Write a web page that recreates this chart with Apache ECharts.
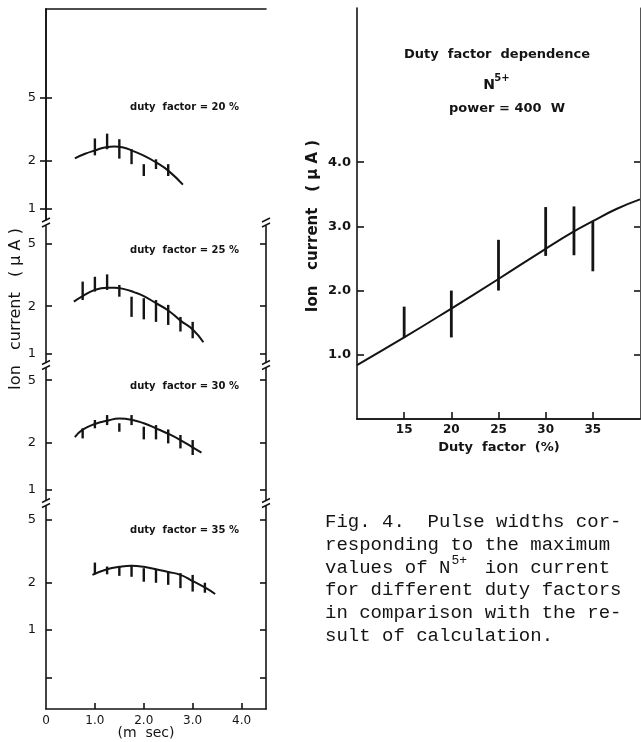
<!DOCTYPE html>
<html><head><meta charset="utf-8">
<script src="https://cdn.jsdelivr.net/npm/echarts@6/dist/echarts.min.js"></script>
<style>html,body{margin:0;padding:0;background:#fff}#c{width:641px;height:742px}</style>
</head><body><div id="c"></div>
<script>
// ---------------- data ----------------
// left figure: pulse width (ms) vs ion current (uA), log scale
const msTickValues = [0, 1, 2, 3, 4];
const msTickMarks = [1, 2, 3, 4];
const logTicks = [1, 2, 5];
const logTicksLow = [0.5, 1, 2, 5];
const panelTitles = ['duty  factor = 20 %', 'duty  factor = 25 %', 'duty  factor = 30 %', 'duty  factor = 35 %'];

const curve20T = [0.59, 0.8, 1.0, 1.2, 1.4, 1.6, 1.75, 2.0, 2.25, 2.5, 2.8];
const curve20I = [2.08, 2.22, 2.33, 2.43, 2.47, 2.42, 2.33, 2.16, 1.96, 1.74, 1.42];
const bar20T = [1.0, 1.25, 1.5, 1.75, 2.0, 2.25, 2.5];
const bar20Lo = [2.17, 2.37, 2.07, 1.91, 1.61, 1.78, 1.61];
const bar20Hi = [2.77, 2.97, 2.74, 2.37, 1.91, 2.05, 1.91];

const curve25T = [0.57, 0.75, 1.0, 1.25, 1.4, 1.6, 1.8, 2.0, 2.25, 2.5, 2.75, 3.0, 3.22];
const curve25I = [2.14, 2.32, 2.54, 2.62, 2.62, 2.57, 2.46, 2.32, 2.09, 1.88, 1.62, 1.42, 1.18];
const bar25T = [0.75, 1.0, 1.25, 1.5, 1.75, 2.0, 2.25, 2.5, 2.75, 3.0];
const bar25Lo = [2.19, 2.48, 2.54, 2.30, 1.71, 1.65, 1.59, 1.52, 1.38, 1.25];
const bar25Hi = [2.87, 3.08, 3.19, 2.73, 2.30, 2.25, 2.19, 2.04, 1.71, 1.59];

const curve30T = [0.59, 0.75, 1.0, 1.25, 1.5, 1.75, 2.0, 2.25, 2.5, 2.75, 3.0, 3.18];
const curve30I = [2.17, 2.42, 2.63, 2.76, 2.85, 2.80, 2.66, 2.47, 2.28, 2.08, 1.87, 1.73];
const bar30T = [0.75, 1.0, 1.25, 1.5, 1.75, 2.0, 2.25, 2.5, 2.75, 3.0];
const bar30Lo = [2.13, 2.47, 2.59, 2.35, 2.59, 2.10, 2.10, 1.98, 1.84, 1.67];
const bar30Hi = [2.47, 2.79, 3.00, 2.66, 3.00, 2.53, 2.59, 2.43, 2.24, 2.08];

const curve35T = [0.95, 1.25, 1.5, 1.75, 2.0, 2.25, 2.5, 2.75, 3.0, 3.25, 3.46];
const curve35I = [2.23, 2.42, 2.51, 2.55, 2.51, 2.42, 2.33, 2.23, 2.04, 1.86, 1.69];
const bar35T = [1.0, 1.25, 1.5, 1.75, 2.0, 2.25, 2.5, 2.75, 3.0, 3.25];
const bar35Lo = [2.25, 2.25, 2.20, 2.17, 2.02, 1.99, 1.93, 1.84, 1.75, 1.72];
const bar35Hi = [2.67, 2.52, 2.52, 2.58, 2.46, 2.40, 2.34, 2.29, 2.23, 1.99];

// right figure: duty factor (%) vs ion current (uA)
const dutyTicks = [15, 20, 25, 30, 35];
const currentTicks = [1, 2, 3, 4];
const calcDuty = [10, 15, 20, 25, 30, 33, 35, 37.5, 40];
const calcCurrent = [0.84, 1.27, 1.72, 2.18, 2.65, 2.92, 3.08, 3.27, 3.42];
const measDuty = [15, 20, 25, 30, 33, 35];
const measLo = [1.27, 1.27, 2.00, 2.54, 2.55, 2.30];
const measHi = [1.75, 2.00, 2.79, 3.30, 3.31, 3.08];

const captionLines = [
  'Fig. 4.  Pulse widths cor-',
  'responding to the maximum',
  'values of N   ion current',
  'for different duty factors',
  'in comparison with the re-',
  'sult of calculation.'
];

// ---------------- layout / style ----------------
const INK = '#141414';
const SANS = 'DejaVu Sans';
const LEFT_X = 46, LEFT_W = 220;
const panelLayout = [
  {top: 9, height: 212, min: 0.84, max: 18, ticks: logTicks},
  {top: 225, height: 138, min: 0.87, max: 6.58, ticks: logTicks},
  {top: 368, height: 133, min: 0.851, max: 5.98, ticks: logTicks},
  {top: 506, height: 203, min: 0.316, max: 6.09, ticks: logTicksLow}
];
const panels = [
  {cT: curve20T, cI: curve20I, bT: bar20T, lo: bar20Lo, hi: bar20Hi},
  {cT: curve25T, cI: curve25I, bT: bar25T, lo: bar25Lo, hi: bar25Hi},
  {cT: curve30T, cI: curve30I, bT: bar30T, lo: bar30Lo, hi: bar30Hi},
  {cT: curve35T, cI: curve35I, bT: bar35T, lo: bar35Lo, hi: bar35Hi}
];

const grid = panelLayout.map(p => ({left: LEFT_X, width: LEFT_W, top: p.top, height: p.height, outerBoundsMode: 'none'}));
grid.push({left: 357, width: 283, top: 8, height: 411, outerBoundsMode: 'none'});

const lineSt = {color: INK, width: 1.6};
const xAxis = [], yAxis = [], series = [];

panelLayout.forEach((p, i) => {
  const last = i === 3;
  xAxis.push({
    type: 'value', gridIndex: i, min: 0, max: 4.5, show: last,
    axisLine: {show: true, lineStyle: lineSt},
    axisTick: {show: true, inside: true, length: 6, customValues: msTickMarks, lineStyle: lineSt},
    axisLabel: {customValues: msTickValues, margin: 6, color: INK, fontFamily: SANS, fontSize: 12,
      formatter: v => v === 0 ? '0' : Number(v).toFixed(1)},
    splitLine: {show: false}
  });
});
xAxis.push({ // right figure bottom
  type: 'value', gridIndex: 4, min: 10, max: 40,
  axisLine: {show: true, lineStyle: lineSt},
  axisTick: {show: true, inside: true, length: 7, customValues: dutyTicks, lineStyle: lineSt},
  axisLabel: {customValues: dutyTicks, margin: 5, color: INK, fontFamily: SANS, fontSize: 12, fontWeight: 'bold'},
  splitLine: {show: false}
});
// frame top lines
xAxis.push({type: 'value', gridIndex: 0, position: 'top', min: 0, max: 4.5,
  axisLine: {show: true, lineStyle: lineSt}, axisTick: {show: false}, axisLabel: {show: false}, splitLine: {show: false}});
xAxis.push({type: 'value', gridIndex: 4, position: 'top', min: 10, max: 40,
  axisLine: {show: true, lineStyle: lineSt}, axisTick: {show: false}, axisLabel: {show: false}, splitLine: {show: false}});

panelLayout.forEach((p, i) => {
  yAxis.push({
    type: 'log', logBase: 10, gridIndex: i, min: p.min, max: p.max, position: 'left',
    axisLine: {show: true, lineStyle: lineSt},
    axisTick: {show: true, inside: true, length: 6, customValues: p.ticks, lineStyle: lineSt},
    axisLabel: {customValues: p.ticks, margin: 10, color: INK, fontFamily: SANS, fontSize: 13,
      formatter: v => v < 0.9 ? '' : String(Math.round(v))},
    splitLine: {show: false}, minorTick: {show: false}
  });
});
yAxis.push({
  type: 'value', gridIndex: 4, min: 0, max: 6.4, position: 'left',
  axisLine: {show: true, lineStyle: lineSt},
  axisTick: {show: true, inside: true, length: 7, customValues: currentTicks, lineStyle: lineSt},
  axisLabel: {customValues: currentTicks, margin: 6, color: INK, fontFamily: SANS, fontSize: 13, fontWeight: 'bold',
    formatter: v => Number(v).toFixed(1)},
  splitLine: {show: false}
});
panelLayout.forEach((p, i) => {
  yAxis.push({
    type: 'log', logBase: 10, gridIndex: i, min: p.min, max: p.max, position: 'right',
    axisLine: {show: true, lineStyle: lineSt},
    axisTick: {show: true, inside: true, length: 6, customValues: p.ticks, lineStyle: lineSt},
    axisLabel: {show: false}, splitLine: {show: false}, minorTick: {show: false}
  });
});
yAxis.push({
  type: 'value', gridIndex: 4, min: 0, max: 6.4, position: 'right',
  axisLine: {show: true, lineStyle: {color: '#555', width: 1}},
  axisTick: {show: true, inside: true, length: 6, customValues: currentTicks, lineStyle: lineSt},
  axisLabel: {show: false}, splitLine: {show: false}
});

function rangeSeries(idx, xs, lo, hi, w) {
  return {
    type: 'custom', xAxisIndex: idx, yAxisIndex: idx, silent: true, z: 3,
    encode: {x: 0, y: [1, 2]},
    data: xs.map((x, k) => [x, lo[k], hi[k]]),
    renderItem: (params, api) => {
      const a = api.coord([api.value(0), api.value(1)]);
      const b = api.coord([api.value(0), api.value(2)]);
      return {type: 'line', shape: {x1: a[0], y1: a[1], x2: b[0], y2: b[1]}, style: {stroke: INK, lineWidth: w}};
    }
  };
}
function curveSeries(idx, xs, ys) {
  return {
    type: 'line', xAxisIndex: idx, yAxisIndex: idx, smooth: 0.5, symbol: 'none', silent: true,
    data: xs.map((x, k) => [x, ys[k]]), lineStyle: {color: INK, width: 2}, z: 2
  };
}
panels.forEach((p, i) => {
  series.push(curveSeries(i, p.cT, p.cI));
  series.push(rangeSeries(i, p.bT, p.lo, p.hi, 2.4));
});
series.push(curveSeries(4, calcDuty, calcCurrent));
series.push(rangeSeries(4, measDuty, measLo, measHi, 2.8));

// ---------------- decorations ----------------
const graphic = [];
const breaks = [223, 365.5, 503.5];
[LEFT_X, LEFT_X + LEFT_W].forEach(x => {
  breaks.forEach(y => {
    graphic.push({type: 'rect', shape: {x: x - 2, y: y - 2.5, width: 4, height: 5}, style: {fill: '#fff'}, z: 50});
    graphic.push({type: 'line', shape: {x1: x - 4, y1: y - 1, x2: x + 4, y2: y - 5}, style: {stroke: INK, lineWidth: 1.4}, z: 51});
    graphic.push({type: 'line', shape: {x1: x - 4, y1: y + 4, x2: x + 4, y2: y}, style: {stroke: INK, lineWidth: 1.4}, z: 51});
  });
});
const titleY = [107, 250, 386, 530];
panelTitles.forEach((t, i) => {
  graphic.push({type: 'text', x: 130, y: titleY[i], style: {text: t, fill: INK, font: 'bold 10px "DejaVu Sans"', textVerticalAlign: 'middle'}, z: 60});
});
function txt(text, x, y, font, align, rot) {
  graphic.push({type: 'text', x: x, y: y, rotation: rot || 0,
    style: {text: text, fill: INK, font: font, textAlign: align || 'center', textVerticalAlign: 'middle'}, z: 60});
}
txt('Ion   current   ( μ A )', 16, 309, '16px "DejaVu Sans"', 'center', Math.PI / 2);
txt('(m  sec)', 146, 733, '14px "DejaVu Sans"');
txt('Duty  factor  dependence', 497, 55, 'bold 13px "DejaVu Sans"');
txt('N', 489, 85, 'bold 14px "DejaVu Sans"');
txt('5+', 502, 78, 'bold 10px "DejaVu Sans"');
txt('power = 400  W', 507, 109, 'bold 13px "DejaVu Sans"');
txt('Ion   current   ( μ A )', 313, 226, 'bold 15px "DejaVu Sans"', 'center', Math.PI / 2);
txt('Duty  factor  (%)', 499, 448, 'bold 13px "DejaVu Sans"');

const capX = 325, capY0 = 522, capDy = 22.8, capCW = 11.4;
captionLines.forEach((l, i) => {
  txt(l, capX, capY0 + i * capDy, '19px "Liberation Mono"', 'left');
});
txt('5+', capX + 11 * capCW + 1, capY0 + 2 * capDy - 7, '13px "Liberation Mono"', 'left');

const chart = echarts.init(document.getElementById('c'));
chart.setOption({
  backgroundColor: '#fff',
  animation: false,
  grid: grid,
  xAxis: xAxis,
  yAxis: yAxis,
  series: series,
  graphic: graphic
});
</script>
</body></html>
